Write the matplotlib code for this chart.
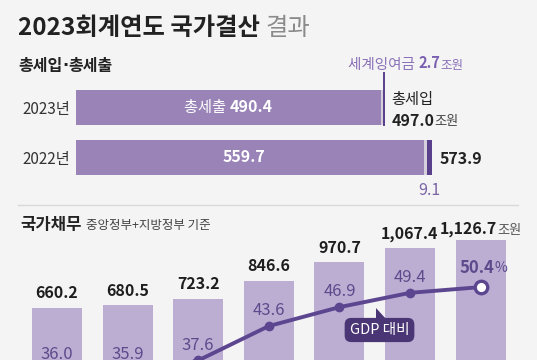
import matplotlib
matplotlib.use("Agg")
import matplotlib.pyplot as plt
from matplotlib.transforms import offset_copy
from matplotlib.patches import Polygon

plt.rcParams['font.family'] = ['Noto Sans CJK KR', 'DejaVu Sans']

# ---------------- data ----------------
budget_years = ['2023년', '2022년']
expenditure = [490.4, 559.7]          # 총세출
carryover = [3.9, 5.1]                # 이월 등
surplus = [2.7, 9.1]                  # 세계잉여금
revenue = [497.0, 573.9]              # 총세입

debt_years = ['2017', '2018', '2019', '2020', '2021', '2022', '2023']
debt = [660.2, 680.5, 723.2, 846.6, 970.7, 1067.4, 1126.7]      # 조원
debt_labels = ['660.2', '680.5', '723.2', '846.6', '970.7', '1,067.4', '1,126.7']
gdp_ratio = [36.0, 35.9, 37.6, 43.6, 46.9, 49.4, 50.4]           # %

# ---------------- style ----------------
BG = '#f4f4f4'
BAR_TOP = '#9983b7'
SLIVER = '#d6d0dc'
DARK = '#5a3f8c'
BAR_BOT = '#bcaed3'
LINE = '#5d4690'
LBL = '#5d4a8c'

W, H = 537, 360
fig = plt.figure(figsize=(W / 100, H / 100), dpi=100, facecolor=BG)


def fx(px):
    return px / W


def fy(py):
    return 1 - py / H


def rich(host, x, y, parts, transform, ha='left', va='baseline', dx=0, dy=0):
    r = fig.canvas.get_renderer()
    objs, ws = [], []
    for s, kw in parts:
        t = host.text(x, y, s, transform=transform, ha='left', va=va, **kw)
        ws.append(t.get_window_extent(r).width)
        objs.append(t)
    total = sum(ws)
    off = {'left': 0, 'center': -total / 2, 'right': -total}[ha] + dx
    for t, w in zip(objs, ws):
        t.set_transform(offset_copy(transform, fig=fig, x=off, y=dy, units='dots'))
        off += w


# ---------------- titles ----------------
rich(fig, fx(18), fy(35), [("2023회계연도 국가결산 ", dict(fontsize=17.5, fontweight='bold', color='#222222')),
                           ("결과", dict(fontsize=17.5, color='#8a8a8a'))], fig.transFigure)
rich(fig, fx(18), fy(66), [("총세입", dict(fontsize=11.5, fontweight='bold', color='#222222')),
                           ("·", dict(fontsize=11.5, fontweight='bold', color='#222222', family='DejaVu Sans')),
                           ("총세출", dict(fontsize=11.5, fontweight='bold', color='#222222'))],
     fig.transFigure, va='center')
fig.add_artist(plt.Line2D([fx(18), fx(518)], [fy(205), fy(205)], color='#d9d9d9', lw=1))
fig.text(fx(20), fy(225), "국가채무", fontsize=12, fontweight='bold', color='#222222', va='center')
fig.text(fx(86), fy(226), "중앙정부+지방정부 기준", fontsize=9, color='#444444', va='center')

# ---------------- top: horizontal stacked bars ----------------
x0_px, scale = 76, 0.621
axT = fig.add_axes([fx(x0_px), fy(182.5), (W - x0_px) / W, 100 / H])
axT.set_facecolor('none')
axT.set_xlim(0, (W - x0_px) / scale)
axT.set_ylim(1.5, -0.5)
yy = list(range(len(budget_years)))
bh = 0.7
axT.barh(yy, expenditure, height=bh, color=BAR_TOP)
axT.barh(yy, carryover, left=expenditure, height=bh, color=SLIVER)
left2 = [a + b for a, b in zip(expenditure, carryover)]
axT.barh(yy, surplus, left=left2, height=bh, color=DARK)
for s in axT.spines.values():
    s.set_visible(False)
axT.set_xticks([])
axT.set_yticks(yy, budget_years)
axT.tick_params(axis='y', length=0, pad=4.5, labelsize=11, labelcolor='#333333')

# leader line for 2023 surplus
xs = left2[0] + surplus[0] / 2
axT.plot([xs, xs], [-0.5 - 10 / 50, 0 + bh / 2], color=DARK, lw=1.4, clip_on=False)
rich(axT, xs, -0.5 - 14 / 50, [("세계잉여금 ", dict(fontsize=10.5, color='#8a70b8')),
                               ("2.7", dict(fontsize=10.5, fontweight='bold', color='#7a5fb0')),
                               ("조원", dict(fontsize=9, color='#8a70b8'))],
     axT.transData, ha='center', va='baseline', dx=22)

# in-bar labels
rich(axT, expenditure[0] / 2, 0, [("총세출 ", dict(fontsize=11, color='white')),
                                 ("490.4", dict(fontsize=11.5, fontweight='bold', color='white'))],
     axT.transData, ha='center', va='center')
axT.text(expenditure[1] / 2 - 10, 1, "559.7", fontsize=11.5, fontweight='bold', color='white',
         ha='center', va='center')

# totals
axT.annotate("총세입", (revenue[0], 0), xytext=(5, 6), textcoords='offset points',
             fontsize=11, color='#222222', ha='left', va='center')
rich(axT, revenue[0], 0, [("497.0", dict(fontsize=11.5, fontweight='bold', color='#222222')),
                          ("조원", dict(fontsize=9.5, color='#444444'))],
     axT.transData, ha='left', va='baseline', dx=7, dy=-18)
axT.annotate("573.9", (revenue[1], 1), xytext=(5.5, -1), textcoords='offset points',
             fontsize=11.5, fontweight='bold', color='#222222', ha='left', va='center')
axT.annotate("9.1", (left2[1] + surplus[1] / 2, 1 + bh / 2), xytext=(0, -11), textcoords='offset points',
             fontsize=11.5, color='#7a64a6', ha='center', va='center')

# ---------------- bottom: debt bars + GDP ratio line ----------------
slot = 70.6
left_px = 57 - slot / 2
axB = fig.add_axes([fx(left_px), fy(404), slot * 7 / W, 204 / H])
axB.set_facecolor('none')
xi = list(range(len(debt_years)))
axB.bar(xi, debt, width=0.708, color=BAR_BOT)
axB.set_xlim(-0.5, 6.5)
axB.set_ylim(0, 204 / 0.1458)
for s in axB.spines.values():
    s.set_visible(False)
axB.set_yticks([])
axB.set_xticks([])
for i, (v, lab) in enumerate(zip(debt, debt_labels)):
    if i == len(debt) - 1:
        rich(axB, i, v, [(lab, dict(fontsize=11.5, fontweight='bold', color='#1e1e1e')),
                         ("조원", dict(fontsize=9.5, color='#555555'))],
             axB.transData, ha='center', va='baseline', dy=6)
    else:
        axB.annotate(lab, (i, v), xytext=(0, 4.5), textcoords='offset points',
                     fontsize=11.5, fontweight='bold', color='#1e1e1e', ha='center', va='bottom')

axL = axB.twinx()
axL.set_ylim(30.0, 65.6)
for s in axL.spines.values():
    s.set_visible(False)
axL.set_yticks([])
axL.plot(xi, gdp_ratio, color=LINE, lw=2.8, solid_capstyle='round', zorder=3)
axL.plot(xi[:-1], gdp_ratio[:-1], 'o', color=LINE, ms=6, zorder=4)
axL.plot(xi[-1:], gdp_ratio[-1:], 'o', mfc='white', mec=LINE, mew=2.4, ms=9, zorder=5)
for i, v in enumerate(gdp_ratio):
    if i == len(gdp_ratio) - 1:
        rich(axL, i, v, [(f"{v:.1f}", dict(fontsize=12, fontweight='bold', color=LBL)),
                         ("%", dict(fontsize=10, color=LBL))],
             axL.transData, ha='center', va='center', dx=3, dy=19)
    else:
        axL.annotate(f"{v:.1f}", (i, v), xytext=(0, 11), textcoords='offset points',
                     fontsize=12, color=LBL, ha='center', va='center')

# callout "GDP 대비"
fig.text(fx(379.5), fy(330), "GDP 대비", fontsize=10.5, color='white', ha='center', va='center',
         bbox=dict(boxstyle='round,pad=0.35,rounding_size=0.45', fc='#4b3675', ec='none'))
fig.add_artist(Polygon([(fx(376), fy(308)), (fx(376), fy(320)), (fx(387), fy(320))],
                       closed=True, transform=fig.transFigure, fc='#4b3675', ec='none'))

fig.savefig('out.png', dpi=100, facecolor=BG)
